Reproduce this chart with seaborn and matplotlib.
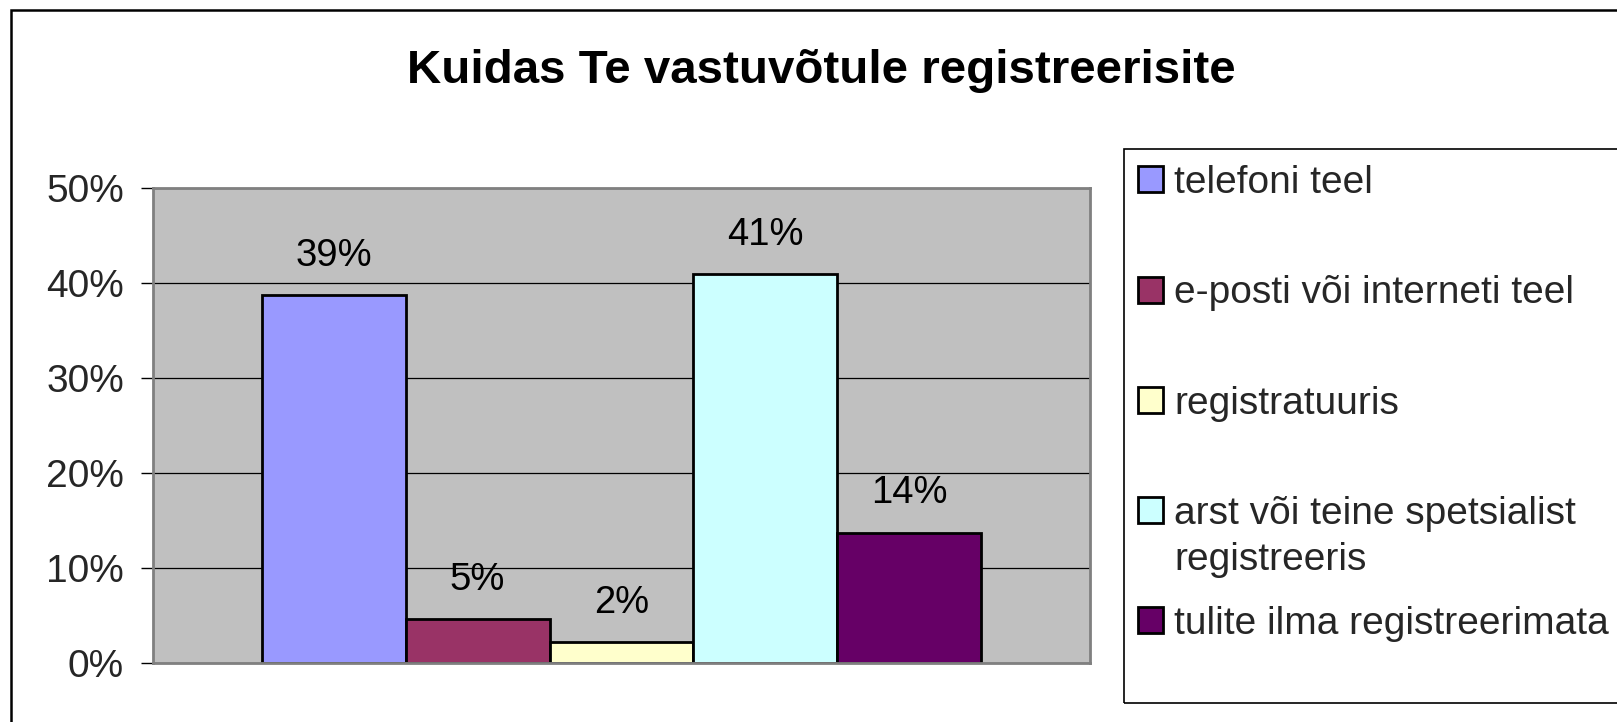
import matplotlib
matplotlib.use("Agg")
import matplotlib.pyplot as plt
import matplotlib.patches as mpatches
import seaborn as sns
import pandas as pd
import numpy as np

# ---- data ----
title = "Kuidas Te vastuvõtule registreerisite"
categories = [
    "telefoni teel",
    "e-posti või interneti teel",
    "registratuuris",
    "arst või teine spetsialist\nregistreeris",
    "tulite ilma registreerimata",
]
values = [38.7, 4.6, 2.2, 40.9, 13.7]
colors = ["#9999FF", "#993366", "#FFFFCC", "#CCFFFF", "#660066"]
y_ticks = [0, 10, 20, 30, 40, 50]
y_tick_labels = ["0%", "10%", "20%", "30%", "40%", "50%"]

sns.set_theme(style="white")
plt.rcParams["font.family"] = ["Liberation Sans", "DejaVu Sans"]

W, H = 1617, 722
fig = plt.figure(figsize=(W / 100, H / 100), dpi=100)
fig.patch.set_facecolor("white")
ax = fig.add_axes([153 / W, 1 - 663 / H, (1090 - 153) / W, (663 - 188) / H])

df = pd.DataFrame({"grp": [""] * len(categories), "value": values, "cat": categories})
sns.barplot(data=df, x="grp", y="value", hue="cat", hue_order=categories,
            palette=colors, width=0.768, gap=0, saturation=1,
            edgecolor="black", linewidth=2.0, legend=False, ax=ax)

ax.set_facecolor("#C0C0C0")
ax.set_ylim(0, 50)
ax.set_xlim(-0.5, 0.5)
ax.set_yticks(y_ticks)
ax.set_yticklabels(y_tick_labels, fontsize=28)
ax.set_xticks([])
ax.set_xlabel("")
ax.set_ylabel("")
ax.set_axisbelow(True)
ax.yaxis.grid(True, color="black", linewidth=0.9)
ax.tick_params(axis="y", which="major", direction="out", length=9, width=1,
               color="black", pad=12, left=True)
for s in ax.spines.values():
    s.set_visible(True)
    s.set_color("#808080")
    s.set_linewidth(2)

for cont in ax.containers:
    labels = [f"{p.get_height():.0f}%" for p in cont.patches]
    ax.bar_label(cont, labels=labels, padding=15.5, fontsize=27.5, color="black")

# legend: first line of each label next to its swatch, continuation lines below
handles = [cont.patches[0] for cont in ax.containers]
first_lines = [c.split("\n")[0] for c in categories]
leg = fig.legend(handles, first_lines, loc="upper left",
                 bbox_to_anchor=(1138 / W, 1 - 165 / H),
                 bbox_transform=fig.transFigure, frameon=False,
                 fontsize=28, handlelength=0.65, handleheight=0.65,
                 handletextpad=0.28, labelspacing=1.91, borderpad=0,
                 borderaxespad=0)

fig.canvas.draw()
renderer = fig.canvas.get_renderer()
for cat, txt in zip(categories, leg.get_texts()):
    rest = cat.split("\n")[1:]
    if rest:
        ext = txt.get_window_extent(renderer)
        for k, line in enumerate(rest, start=1):
            fig.text(ext.x0 / W, (ext.y0 - 46 * k) / H, line, ha="left", va="bottom",
                     fontsize=28, color=txt.get_color())

# legend frame box
fig.patches.append(mpatches.Rectangle((1124 / W, 1 - 703 / H), 1.0, (703 - 149) / H,
                                      transform=fig.transFigure, fill=False,
                                      edgecolor="black", linewidth=1.2, zorder=0))
# outer chart frame
fig.patches.append(mpatches.Rectangle((11 / W, -0.2), 1.2, 0.2 + (1 - 10 / H),
                                      transform=fig.transFigure, fill=False,
                                      edgecolor="black", linewidth=1.8, zorder=0))

fig.text(821 / W, 1 - 83 / H, title, ha="center", va="baseline",
         fontsize=34.2, fontweight="bold", color="black")

fig.savefig("out.png", dpi=100, facecolor="white")
